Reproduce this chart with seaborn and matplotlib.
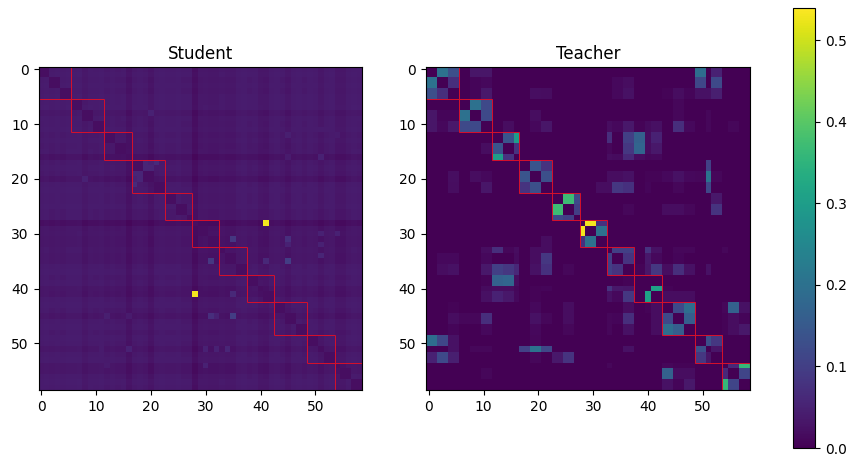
import numpy as np
import matplotlib
matplotlib.use('Agg')
import matplotlib.pyplot as plt
from matplotlib.patches import Rectangle
import seaborn as sns

# token spans: each one is one or two tokens wide
span_starts = [0, 2, 4, 6, 8, 10, 12, 14, 16, 17, 19, 21, 23, 25, 27, 28, 29, 31,
               33, 34, 36, 38, 40, 41, 43, 45, 47, 49, 51, 52, 54, 55, 57, 59]
block_edges = [0, 6, 12, 17, 23, 28, 33, 38, 43, 49, 54, 59]

# teacher weights, upper triangle by span start (mirrored below)
teacher_pairs = [
    (0, 2, .20), (0, 4, .13), (2, 4, .07), (0, 8, .03), (0, 10, .03), (2, 8, .008), (2, 10, .012),
    (4, 8, .008), (4, 10, .035), (6, 8, .20), (6, 10, .12), (8, 10, .12), (10, 14, .018),
    (12, 14, .14), (12, 16, .30), (14, 16, .08), (17, 19, .14), (17, 21, .08), (19, 21, .13),
    (4, 19, .02), (4, 21, .018), (8, 19, .018), (10, 19, .012), (10, 21, .03),
    (23, 25, .37), (23, 27, .12), (25, 27, .10),
    (28, 29, .53), (28, 31, .075), (29, 31, .20),
    (0, 49, .19), (0, 52, .05), (2, 49, .115), (2, 52, .12), (4, 49, .025), (4, 51, .025), (4, 52, .045),
    (2, 34, .012), (2, 36, .018), (4, 34, .012), (4, 36, .025), (4, 43, .006), (4, 45, .018), (4, 47, .008),
    (6, 45, .01), (8, 45, .01), (8, 51, .01),
    (10, 33, .018), (10, 34, .012), (10, 36, .035), (10, 38, .006), (10, 40, .015), (10, 41, .022),
    (10, 45, .07), (10, 47, .012), (10, 51, .01), (10, 55, .01),
    (12, 33, .07), (12, 36, .10), (12, 38, .165), (12, 40, .018), (12, 41, .05),
    (14, 33, .01), (14, 36, .085), (14, 38, .175), (14, 40, .018), (14, 41, .035),
    (16, 33, .018), (16, 34, .015), (16, 36, .06), (16, 38, .018), (16, 40, .01), (16, 41, .012),
    (17, 51, .105), (19, 51, .205), (21, 51, .115),
    (19, 33, .018), (19, 34, .018), (19, 36, .025), (19, 40, .005), (19, 41, .005),
    (19, 43, .012), (19, 45, .025), (19, 47, .012), (19, 49, .01), (19, 52, .01),
    (21, 31, .018), (21, 33, .018), (21, 34, .085), (21, 36, .075), (21, 40, .007), (21, 45, .01),
    (23, 52, .035), (25, 52, .08), (25, 36, .01), (25, 43, .018), (25, 45, .018), (25, 47, .01),
    (33, 34, .10), (33, 36, .10), (34, 36, .08),
    (33, 40, .08), (33, 41, .025), (33, 45, .01), (33, 47, .01), (33, 54, .01),
    (34, 40, .035), (34, 41, .012), (34, 45, .007),
    (36, 38, .005), (36, 40, .03), (36, 41, .085), (36, 43, .018), (36, 45, .07), (36, 47, .025), (36, 51, .025),
    (40, 41, .31), (40, 43, .005), (41, 43, .018), (41, 45, .018), (41, 47, .018),
    (43, 45, .12), (43, 47, .19), (45, 47, .16),
    (43, 54, .01), (43, 55, .165), (43, 57, .025), (45, 54, .005), (45, 55, .018), (45, 57, .008),
    (47, 54, .005), (47, 55, .018), (47, 57, .035),
    (49, 51, .13), (49, 52, .085), (51, 52, .03),
    (54, 55, .06), (54, 57, .36), (55, 57, .11),
]

# overall level of each token in the student matrix
student_levels = [
    .019, .021, .018, .020, .018, .021, .021, .022, .014, .019, .018, .020,
    .016, .018, .016, .017, .007, .016, .018, .016, .009, .018, .020, .018,
    .018, .020, .017, .017, .002, .013, .014, .012, .012, .015, .013, .013,
    .018, .020, .017, .018, .012, .011, .018, .020, .017, .011, .018, .020,
    .017, .020, .018, .012, .018, .020, .012, .012, .018, .021, .019,
]

# student cells that stand out from their row and column, mirrored below
student_cells = [
    (28, 41, .53), (31, 35, .085), (31, 45, .07), (35, 41, .06), (35, 45, .095),
    (30, 51, .05), (30, 54, .05), (32, 51, .05), (32, 45, .05), (34, 51, .055),
    (8, 20, .05), (12, 45, .045), (12, 54, .04), (16, 51, .05), (16, 45, .04), (11, 51, .04),
    (17, 19, .055), (17, 20, .05), (18, 19, .055), (18, 20, .055), (17, 21, .065),
]

n_tokens = len(student_levels)


def span_of(start):
    i = span_starts.index(start)
    return span_starts[i], span_starts[i + 1]


teacher = np.zeros((n_tokens, n_tokens))
for a, b, v in teacher_pairs:
    a0, a1 = span_of(a)
    b0, b1 = span_of(b)
    teacher[a0:a1, b0:b1] = v
    teacher[b0:b1, a0:a1] = v

student = np.add.outer(student_levels, student_levels)
# a span never attends to itself
for s0, s1 in zip(span_starts[:-1], span_starts[1:]):
    student[s0:s1, s0:s1] = .019
for a, b, v in student_cells:
    student[a, b] = v
    student[b, a] = v

fig = plt.figure(figsize=(8.48, 4.58), dpi=100)


def px_axes(x0, y0, x1, y1):
    return fig.add_axes([x0 / 848, 1 - y1 / 458, (x1 - x0) / 848, (y1 - y0) / 458])


ax1 = px_axes(38.5, 66.5, 362, 390)
ax2 = px_axes(426, 66.5, 749.5, 390)
cax = px_axes(793, 7.5, 815, 448)

ticks = np.arange(0, 60, 10)
for ax, mat, title in [(ax1, student, 'Student'), (ax2, teacher, 'Teacher')]:
    sns.heatmap(mat, ax=ax, cmap='viridis', vmin=0, vmax=.54, cbar=ax is ax1,
                cbar_ax=cax if ax is ax1 else None, square=False,
                xticklabels=False, yticklabels=False)
    ax.set_xticks(ticks + .5)
    ax.set_xticklabels(ticks, rotation=0)
    ax.set_yticks(ticks + .5)
    ax.set_yticklabels(ticks, rotation=0)
    ax.tick_params(labelsize=10, length=3.5, width=.8)
    ax.set_title(title, fontsize=12, pad=5.5)
    for sp in ax.spines.values():
        sp.set_visible(True)
        sp.set_linewidth(.8)

# student: crossing lines at each block edge
for k in range(1, len(block_edges) - 1):
    e0, e, e1 = block_edges[k - 1], block_edges[k], block_edges[k + 1]
    ax1.hlines(e, e0, e1, color='#d8102a', lw=.7, snap=True)
    ax1.vlines(e, e0, e1, color='#d8102a', lw=.7, snap=True)

# teacher: a box round each block
for e0, e1 in zip(block_edges[:-1], block_edges[1:]):
    ax2.add_patch(Rectangle((e0, e0), e1 - e0, e1 - e0, fill=False, edgecolor='#d8102a', lw=.7))

cbar = ax1.collections[0].colorbar
cbar.set_ticks([0, .1, .2, .3, .4, .5])
cbar.set_ticklabels(['0.0', '0.1', '0.2', '0.3', '0.4', '0.5'])
cbar.ax.tick_params(labelsize=10, length=3.5, width=.8)
cbar.outline.set_visible(True)
cbar.outline.set_linewidth(.8)
cbar.outline.set_edgecolor('black')

fig.savefig('out.png', dpi=100)
